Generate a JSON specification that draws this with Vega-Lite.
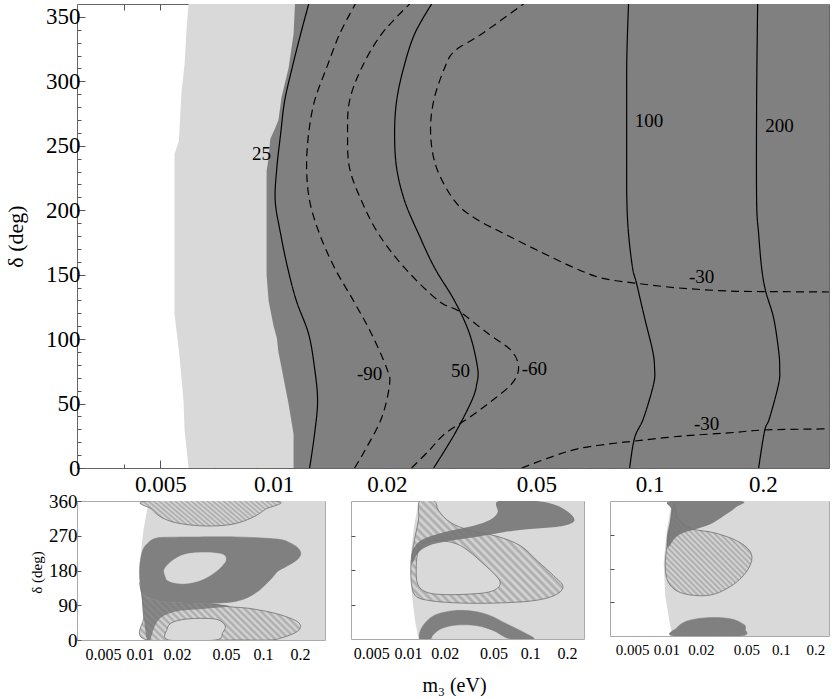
{
"$schema": "https://vega.github.io/schema/vega-lite/v6.json",
"background": "white",
"padding": {"left": 3, "top": 3, "right": 0, "bottom": 0},
"config": {
  "view": {"stroke": "#666666", "strokeWidth": 1},
  "axis": {"labelFont": "Liberation Serif, Times New Roman, DejaVu Serif, serif", "titleFont": "Liberation Serif, Times New Roman, DejaVu Serif, serif", "titleFontWeight": "normal", "labelColor": "#000000", "titleColor": "#000000", "tickColor": "#555555", "domain": false, "grid": false, "labelFlush": false, "labelOverlap": false},
  "text": {"font": "Liberation Serif, Times New Roman, DejaVu Serif, serif"},
  "style": {
    "hatchA": {"fill": {"gradient": "linear", "x1": 0, "y1": 1, "x2": 1.162, "y2": 0.749, "stops": [{"offset":0,"color":"#a8a8a8"},{"offset":0.0156,"color":"#d9d9d9"},{"offset":0.0313,"color":"#a8a8a8"},{"offset":0.0469,"color":"#d9d9d9"},{"offset":0.0625,"color":"#a8a8a8"},{"offset":0.0781,"color":"#d9d9d9"},{"offset":0.0938,"color":"#a8a8a8"},{"offset":0.1094,"color":"#d9d9d9"},{"offset":0.125,"color":"#a8a8a8"},{"offset":0.1406,"color":"#d9d9d9"},{"offset":0.1563,"color":"#a8a8a8"},{"offset":0.1719,"color":"#d9d9d9"},{"offset":0.1875,"color":"#a8a8a8"},{"offset":0.2031,"color":"#d9d9d9"},{"offset":0.2188,"color":"#a8a8a8"},{"offset":0.2344,"color":"#d9d9d9"},{"offset":0.25,"color":"#a8a8a8"},{"offset":0.2656,"color":"#d9d9d9"},{"offset":0.2813,"color":"#a8a8a8"},{"offset":0.2969,"color":"#d9d9d9"},{"offset":0.3125,"color":"#a8a8a8"},{"offset":0.3281,"color":"#d9d9d9"},{"offset":0.3438,"color":"#a8a8a8"},{"offset":0.3594,"color":"#d9d9d9"},{"offset":0.375,"color":"#a8a8a8"},{"offset":0.3906,"color":"#d9d9d9"},{"offset":0.4063,"color":"#a8a8a8"},{"offset":0.4219,"color":"#d9d9d9"},{"offset":0.4375,"color":"#a8a8a8"},{"offset":0.4531,"color":"#d9d9d9"},{"offset":0.4688,"color":"#a8a8a8"},{"offset":0.4844,"color":"#d9d9d9"},{"offset":0.5,"color":"#a8a8a8"},{"offset":0.5156,"color":"#d9d9d9"},{"offset":0.5313,"color":"#a8a8a8"},{"offset":0.5469,"color":"#d9d9d9"},{"offset":0.5625,"color":"#a8a8a8"},{"offset":0.5781,"color":"#d9d9d9"},{"offset":0.5938,"color":"#a8a8a8"},{"offset":0.6094,"color":"#d9d9d9"},{"offset":0.625,"color":"#a8a8a8"},{"offset":0.6406,"color":"#d9d9d9"},{"offset":0.6563,"color":"#a8a8a8"},{"offset":0.6719,"color":"#d9d9d9"},{"offset":0.6875,"color":"#a8a8a8"},{"offset":0.7031,"color":"#d9d9d9"},{"offset":0.7188,"color":"#a8a8a8"},{"offset":0.7344,"color":"#d9d9d9"},{"offset":0.75,"color":"#a8a8a8"},{"offset":0.7656,"color":"#d9d9d9"},{"offset":0.7813,"color":"#a8a8a8"},{"offset":0.7969,"color":"#d9d9d9"},{"offset":0.8125,"color":"#a8a8a8"},{"offset":0.8281,"color":"#d9d9d9"},{"offset":0.8438,"color":"#a8a8a8"},{"offset":0.8594,"color":"#d9d9d9"},{"offset":0.875,"color":"#a8a8a8"},{"offset":0.8906,"color":"#d9d9d9"},{"offset":0.9063,"color":"#a8a8a8"},{"offset":0.9219,"color":"#d9d9d9"},{"offset":0.9375,"color":"#a8a8a8"},{"offset":0.9531,"color":"#d9d9d9"},{"offset":0.9688,"color":"#a8a8a8"},{"offset":0.9844,"color":"#d9d9d9"},{"offset":1,"color":"#a8a8a8"}]}},
    "hatchB": {"fill": {"gradient": "linear", "x1": 0, "y1": 1, "x2": 1.2055, "y2": 0.548, "stops": [{"offset":0,"color":"#a8a8a8"},{"offset":0.0156,"color":"#d9d9d9"},{"offset":0.0313,"color":"#a8a8a8"},{"offset":0.0469,"color":"#d9d9d9"},{"offset":0.0625,"color":"#a8a8a8"},{"offset":0.0781,"color":"#d9d9d9"},{"offset":0.0938,"color":"#a8a8a8"},{"offset":0.1094,"color":"#d9d9d9"},{"offset":0.125,"color":"#a8a8a8"},{"offset":0.1406,"color":"#d9d9d9"},{"offset":0.1563,"color":"#a8a8a8"},{"offset":0.1719,"color":"#d9d9d9"},{"offset":0.1875,"color":"#a8a8a8"},{"offset":0.2031,"color":"#d9d9d9"},{"offset":0.2188,"color":"#a8a8a8"},{"offset":0.2344,"color":"#d9d9d9"},{"offset":0.25,"color":"#a8a8a8"},{"offset":0.2656,"color":"#d9d9d9"},{"offset":0.2813,"color":"#a8a8a8"},{"offset":0.2969,"color":"#d9d9d9"},{"offset":0.3125,"color":"#a8a8a8"},{"offset":0.3281,"color":"#d9d9d9"},{"offset":0.3438,"color":"#a8a8a8"},{"offset":0.3594,"color":"#d9d9d9"},{"offset":0.375,"color":"#a8a8a8"},{"offset":0.3906,"color":"#d9d9d9"},{"offset":0.4063,"color":"#a8a8a8"},{"offset":0.4219,"color":"#d9d9d9"},{"offset":0.4375,"color":"#a8a8a8"},{"offset":0.4531,"color":"#d9d9d9"},{"offset":0.4688,"color":"#a8a8a8"},{"offset":0.4844,"color":"#d9d9d9"},{"offset":0.5,"color":"#a8a8a8"},{"offset":0.5156,"color":"#d9d9d9"},{"offset":0.5313,"color":"#a8a8a8"},{"offset":0.5469,"color":"#d9d9d9"},{"offset":0.5625,"color":"#a8a8a8"},{"offset":0.5781,"color":"#d9d9d9"},{"offset":0.5938,"color":"#a8a8a8"},{"offset":0.6094,"color":"#d9d9d9"},{"offset":0.625,"color":"#a8a8a8"},{"offset":0.6406,"color":"#d9d9d9"},{"offset":0.6563,"color":"#a8a8a8"},{"offset":0.6719,"color":"#d9d9d9"},{"offset":0.6875,"color":"#a8a8a8"},{"offset":0.7031,"color":"#d9d9d9"},{"offset":0.7188,"color":"#a8a8a8"},{"offset":0.7344,"color":"#d9d9d9"},{"offset":0.75,"color":"#a8a8a8"},{"offset":0.7656,"color":"#d9d9d9"},{"offset":0.7813,"color":"#a8a8a8"},{"offset":0.7969,"color":"#d9d9d9"},{"offset":0.8125,"color":"#a8a8a8"},{"offset":0.8281,"color":"#d9d9d9"},{"offset":0.8438,"color":"#a8a8a8"},{"offset":0.8594,"color":"#d9d9d9"},{"offset":0.875,"color":"#a8a8a8"},{"offset":0.8906,"color":"#d9d9d9"},{"offset":0.9063,"color":"#a8a8a8"},{"offset":0.9219,"color":"#d9d9d9"},{"offset":0.9375,"color":"#a8a8a8"},{"offset":0.9531,"color":"#d9d9d9"},{"offset":0.9688,"color":"#a8a8a8"},{"offset":0.9844,"color":"#d9d9d9"},{"offset":1,"color":"#a8a8a8"}]}},
    "hatchC": {"fill": {"gradient": "linear", "x1": 0, "y1": 1, "x2": 1.152, "y2": 0.227, "stops": [{"offset":0,"color":"#a8a8a8"},{"offset":0.0156,"color":"#d9d9d9"},{"offset":0.0313,"color":"#a8a8a8"},{"offset":0.0469,"color":"#d9d9d9"},{"offset":0.0625,"color":"#a8a8a8"},{"offset":0.0781,"color":"#d9d9d9"},{"offset":0.0938,"color":"#a8a8a8"},{"offset":0.1094,"color":"#d9d9d9"},{"offset":0.125,"color":"#a8a8a8"},{"offset":0.1406,"color":"#d9d9d9"},{"offset":0.1563,"color":"#a8a8a8"},{"offset":0.1719,"color":"#d9d9d9"},{"offset":0.1875,"color":"#a8a8a8"},{"offset":0.2031,"color":"#d9d9d9"},{"offset":0.2188,"color":"#a8a8a8"},{"offset":0.2344,"color":"#d9d9d9"},{"offset":0.25,"color":"#a8a8a8"},{"offset":0.2656,"color":"#d9d9d9"},{"offset":0.2813,"color":"#a8a8a8"},{"offset":0.2969,"color":"#d9d9d9"},{"offset":0.3125,"color":"#a8a8a8"},{"offset":0.3281,"color":"#d9d9d9"},{"offset":0.3438,"color":"#a8a8a8"},{"offset":0.3594,"color":"#d9d9d9"},{"offset":0.375,"color":"#a8a8a8"},{"offset":0.3906,"color":"#d9d9d9"},{"offset":0.4063,"color":"#a8a8a8"},{"offset":0.4219,"color":"#d9d9d9"},{"offset":0.4375,"color":"#a8a8a8"},{"offset":0.4531,"color":"#d9d9d9"},{"offset":0.4688,"color":"#a8a8a8"},{"offset":0.4844,"color":"#d9d9d9"},{"offset":0.5,"color":"#a8a8a8"},{"offset":0.5156,"color":"#d9d9d9"},{"offset":0.5313,"color":"#a8a8a8"},{"offset":0.5469,"color":"#d9d9d9"},{"offset":0.5625,"color":"#a8a8a8"},{"offset":0.5781,"color":"#d9d9d9"},{"offset":0.5938,"color":"#a8a8a8"},{"offset":0.6094,"color":"#d9d9d9"},{"offset":0.625,"color":"#a8a8a8"},{"offset":0.6406,"color":"#d9d9d9"},{"offset":0.6563,"color":"#a8a8a8"},{"offset":0.6719,"color":"#d9d9d9"},{"offset":0.6875,"color":"#a8a8a8"},{"offset":0.7031,"color":"#d9d9d9"},{"offset":0.7188,"color":"#a8a8a8"},{"offset":0.7344,"color":"#d9d9d9"},{"offset":0.75,"color":"#a8a8a8"},{"offset":0.7656,"color":"#d9d9d9"},{"offset":0.7813,"color":"#a8a8a8"},{"offset":0.7969,"color":"#d9d9d9"},{"offset":0.8125,"color":"#a8a8a8"},{"offset":0.8281,"color":"#d9d9d9"},{"offset":0.8438,"color":"#a8a8a8"},{"offset":0.8594,"color":"#d9d9d9"},{"offset":0.875,"color":"#a8a8a8"},{"offset":0.8906,"color":"#d9d9d9"},{"offset":0.9063,"color":"#a8a8a8"},{"offset":0.9219,"color":"#d9d9d9"},{"offset":0.9375,"color":"#a8a8a8"},{"offset":0.9531,"color":"#d9d9d9"},{"offset":0.9688,"color":"#a8a8a8"},{"offset":0.9844,"color":"#d9d9d9"},{"offset":1,"color":"#a8a8a8"}]}},
    "hatchD": {"fill": {"gradient": "linear", "x1": 0, "y1": 1, "x2": 0.977, "y2": -0.022, "stops": [{"offset":0,"color":"#a8a8a8"},{"offset":0.0156,"color":"#d9d9d9"},{"offset":0.0313,"color":"#a8a8a8"},{"offset":0.0469,"color":"#d9d9d9"},{"offset":0.0625,"color":"#a8a8a8"},{"offset":0.0781,"color":"#d9d9d9"},{"offset":0.0938,"color":"#a8a8a8"},{"offset":0.1094,"color":"#d9d9d9"},{"offset":0.125,"color":"#a8a8a8"},{"offset":0.1406,"color":"#d9d9d9"},{"offset":0.1563,"color":"#a8a8a8"},{"offset":0.1719,"color":"#d9d9d9"},{"offset":0.1875,"color":"#a8a8a8"},{"offset":0.2031,"color":"#d9d9d9"},{"offset":0.2188,"color":"#a8a8a8"},{"offset":0.2344,"color":"#d9d9d9"},{"offset":0.25,"color":"#a8a8a8"},{"offset":0.2656,"color":"#d9d9d9"},{"offset":0.2813,"color":"#a8a8a8"},{"offset":0.2969,"color":"#d9d9d9"},{"offset":0.3125,"color":"#a8a8a8"},{"offset":0.3281,"color":"#d9d9d9"},{"offset":0.3438,"color":"#a8a8a8"},{"offset":0.3594,"color":"#d9d9d9"},{"offset":0.375,"color":"#a8a8a8"},{"offset":0.3906,"color":"#d9d9d9"},{"offset":0.4063,"color":"#a8a8a8"},{"offset":0.4219,"color":"#d9d9d9"},{"offset":0.4375,"color":"#a8a8a8"},{"offset":0.4531,"color":"#d9d9d9"},{"offset":0.4688,"color":"#a8a8a8"},{"offset":0.4844,"color":"#d9d9d9"},{"offset":0.5,"color":"#a8a8a8"},{"offset":0.5156,"color":"#d9d9d9"},{"offset":0.5313,"color":"#a8a8a8"},{"offset":0.5469,"color":"#d9d9d9"},{"offset":0.5625,"color":"#a8a8a8"},{"offset":0.5781,"color":"#d9d9d9"},{"offset":0.5938,"color":"#a8a8a8"},{"offset":0.6094,"color":"#d9d9d9"},{"offset":0.625,"color":"#a8a8a8"},{"offset":0.6406,"color":"#d9d9d9"},{"offset":0.6563,"color":"#a8a8a8"},{"offset":0.6719,"color":"#d9d9d9"},{"offset":0.6875,"color":"#a8a8a8"},{"offset":0.7031,"color":"#d9d9d9"},{"offset":0.7188,"color":"#a8a8a8"},{"offset":0.7344,"color":"#d9d9d9"},{"offset":0.75,"color":"#a8a8a8"},{"offset":0.7656,"color":"#d9d9d9"},{"offset":0.7813,"color":"#a8a8a8"},{"offset":0.7969,"color":"#d9d9d9"},{"offset":0.8125,"color":"#a8a8a8"},{"offset":0.8281,"color":"#d9d9d9"},{"offset":0.8438,"color":"#a8a8a8"},{"offset":0.8594,"color":"#d9d9d9"},{"offset":0.875,"color":"#a8a8a8"},{"offset":0.8906,"color":"#d9d9d9"},{"offset":0.9063,"color":"#a8a8a8"},{"offset":0.9219,"color":"#d9d9d9"},{"offset":0.9375,"color":"#a8a8a8"},{"offset":0.9531,"color":"#d9d9d9"},{"offset":0.9688,"color":"#a8a8a8"},{"offset":0.9844,"color":"#d9d9d9"},{"offset":1,"color":"#a8a8a8"}]}}
  }
},
"datasets": {
  "mainB": [
    {"s":"L","o":0,"d":0,"m":0.00594},{"s":"L","o":1,"d":28.7,"m":0.0058},{"s":"L","o":2,"d":52,"m":0.00576},{"s":"L","o":3,"d":70,"m":0.00569},{"s":"L","o":4,"d":91,"m":0.0056},{"s":"L","o":5,"d":119.5,"m":0.00545},{"s":"L","o":6,"d":207,"m":0.00545},{"s":"L","o":7,"d":243.6,"m":0.00545},{"s":"L","o":8,"d":253.7,"m":0.0056},{"s":"L","o":9,"d":292.5,"m":0.00569},{"s":"L","o":10,"d":313.5,"m":0.0058},{"s":"L","o":11,"d":341.4,"m":0.00587},{"s":"L","o":12,"d":360,"m":0.00594},{"s":"L","o":13,"d":360,"m":0.3},{"s":"L","o":14,"d":0,"m":0.3},
    {"s":"D","o":0,"d":0,"m":0.0113},{"s":"D","o":1,"d":26.4,"m":0.0113},{"s":"D","o":2,"d":49.7,"m":0.01096},{"s":"D","o":3,"d":77.6,"m":0.0105},{"s":"D","o":4,"d":90,"m":0.0103},{"s":"D","o":5,"d":100.9,"m":0.0102},{"s":"D","o":6,"d":110,"m":0.01},{"s":"D","o":7,"d":129.6,"m":0.0097},{"s":"D","o":8,"d":150,"m":0.00958},{"s":"D","o":9,"d":200,"m":0.00958},{"s":"D","o":10,"d":230.4,"m":0.00958},{"s":"D","o":11,"d":240.5,"m":0.0097},{"s":"D","o":12,"d":255.3,"m":0.0098},{"s":"D","o":13,"d":263.8,"m":0.0101},{"s":"D","o":14,"d":270,"m":0.0103},{"s":"D","o":15,"d":287.8,"m":0.0105},{"s":"D","o":16,"d":310.3,"m":0.01096},{"s":"D","o":17,"d":336.7,"m":0.0113},{"s":"D","o":18,"d":360,"m":0.0114},{"s":"D","o":19,"d":360,"m":0.3},{"s":"D","o":20,"d":0,"m":0.3}
  ],
  "cont": [
    {"c":"25","k":"s","d":360,"m":0.0124},{"c":"25","k":"s","d":336.7,"m":0.0118},{"c":"25","k":"s","d":310.4,"m":0.0112},{"c":"25","k":"s","d":284.8,"m":0.0107},{"c":"25","k":"s","d":259.2,"m":0.01044},{"c":"25","k":"s","d":232.8,"m":0.0102},{"c":"25","k":"s","d":207.2,"m":0.0101},{"c":"25","k":"s","d":181.6,"m":0.01044},{"c":"25","k":"s","d":155.2,"m":0.0109},{"c":"25","k":"s","d":129.6,"m":0.0115},{"c":"25","k":"s","d":104,"m":0.01239},{"c":"25","k":"s","d":77.6,"m":0.01285},{"c":"25","k":"s","d":52,"m":0.01309},{"c":"25","k":"s","d":26.4,"m":0.01285},{"c":"25","k":"s","d":0,"m":0.01247},
    {"c":"m90","k":"d","d":360,"m":0.0165},{"c":"m90","k":"d","d":336.7,"m":0.01498},{"c":"m90","k":"d","d":310.4,"m":0.01383},{"c":"m90","k":"d","d":284.8,"m":0.01285},{"c":"m90","k":"d","d":259.2,"m":0.01239},{"c":"m90","k":"d","d":232.8,"m":0.01224},{"c":"m90","k":"d","d":207.2,"m":0.01247},{"c":"m90","k":"d","d":181.6,"m":0.01325},{"c":"m90","k":"d","d":155.2,"m":0.01453},{"c":"m90","k":"d","d":129.6,"m":0.01632},{"c":"m90","k":"d","d":104,"m":0.01822},{"c":"m90","k":"d","d":77.6,"m":0.01998},{"c":"m90","k":"d","d":65.2,"m":0.02035},{"c":"m90","k":"d","d":38.8,"m":0.01937},{"c":"m90","k":"d","d":13.2,"m":0.01746},{"c":"m90","k":"d","d":0,"m":0.01642},
    {"c":"m60","k":"d","d":360,"m":0.023},{"c":"m60","k":"d","d":336.7,"m":0.01937},{"c":"m60","k":"d","d":310.4,"m":0.01714},{"c":"m60","k":"d","d":284.8,"m":0.01592},{"c":"m60","k":"d","d":259.2,"m":0.01573},{"c":"m60","k":"d","d":232.8,"m":0.01592},{"c":"m60","k":"d","d":207.2,"m":0.01714},{"c":"m60","k":"d","d":181.6,"m":0.01902},{"c":"m60","k":"d","d":155.2,"m":0.02231},{"c":"m60","k":"d","d":129.6,"m":0.02747},{"c":"m60","k":"d","d":121.8,"m":0.03105},{"c":"m60","k":"d","d":104,"m":0.03731},{"c":"m60","k":"d","d":90.8,"m":0.04295},{"c":"m60","k":"d","d":77.6,"m":0.04483},{"c":"m60","k":"d","d":65.2,"m":0.04295},{"c":"m60","k":"d","d":52,"m":0.038},{"c":"m60","k":"d","d":38.8,"m":0.03301},{"c":"m60","k":"d","d":26.4,"m":0.0285},{"c":"m60","k":"d","d":13.2,"m":0.02584},{"c":"m60","k":"d","d":0,"m":0.02328},
    {"c":"50","k":"s","d":360,"m":0.02632},{"c":"50","k":"s","d":336.7,"m":0.02371},{"c":"50","k":"s","d":310.4,"m":0.02217},{"c":"50","k":"s","d":284.8,"m":0.02124},{"c":"50","k":"s","d":259.2,"m":0.02098},{"c":"50","k":"s","d":232.8,"m":0.02124},{"c":"50","k":"s","d":207.2,"m":0.02231},{"c":"50","k":"s","d":181.6,"m":0.0243},{"c":"50","k":"s","d":155.2,"m":0.02681},{"c":"50","k":"s","d":129.6,"m":0.0303},{"c":"50","k":"s","d":104,"m":0.03321},{"c":"50","k":"s","d":77.6,"m":0.03488},{"c":"50","k":"s","d":65.2,"m":0.0347},{"c":"50","k":"s","d":52,"m":0.03362},{"c":"50","k":"s","d":26.4,"m":0.0303},{"c":"50","k":"s","d":0,"m":0.02665},
    {"c":"m30a","k":"d","d":360,"m":0.0462},{"c":"m30a","k":"d","d":336.7,"m":0.03575},{"c":"m30a","k":"d","d":323.5,"m":0.0303},{"c":"m30a","k":"d","d":310.4,"m":0.0285},{"c":"m30a","k":"d","d":284.8,"m":0.02665},{"c":"m30a","k":"d","d":259.2,"m":0.02616},{"c":"m30a","k":"d","d":232.8,"m":0.02713},{"c":"m30a","k":"d","d":207.2,"m":0.0303},{"c":"m30a","k":"d","d":194,"m":0.03424},{"c":"m30a","k":"d","d":181.6,"m":0.04116},{"c":"m30a","k":"d","d":168.4,"m":0.05068},{"c":"m30a","k":"d","d":155.2,"m":0.06318},{"c":"m30a","k":"d","d":147.4,"m":0.07452},{"c":"m30a","k":"d","d":143.5,"m":0.09124},{"c":"m30a","k":"d","d":139.7,"m":0.1194},{"c":"m30a","k":"d","d":137.3,"m":0.1622},{"c":"m30a","k":"d","d":136.9,"m":0.1986},{"c":"m30a","k":"d","d":136.6,"m":0.2866},{"c":"m30a","k":"d","d":136.5,"m":0.3},
    {"c":"m30b","k":"d","d":0,"m":0.0457},{"c":"m30b","k":"d","d":9.3,"m":0.0556},{"c":"m30b","k":"d","d":15.5,"m":0.0659},{"c":"m30b","k":"d","d":19.4,"m":0.0817},{"c":"m30b","k":"d","d":20.9,"m":0.0912},{"c":"m30b","k":"d","d":24.8,"m":0.1217},{"c":"m30b","k":"d","d":27.2,"m":0.1622},{"c":"m30b","k":"d","d":29.5,"m":0.202},{"c":"m30b","k":"d","d":30.3,"m":0.2866},{"c":"m30b","k":"d","d":30.5,"m":0.3},
    {"c":"100","k":"s","d":360,"m":0.0879},{"c":"100","k":"s","d":320,"m":0.087},{"c":"100","k":"s","d":280,"m":0.0869},{"c":"100","k":"s","d":240,"m":0.0869},{"c":"100","k":"s","d":207.2,"m":0.087},{"c":"100","k":"s","d":181.6,"m":0.0879},{"c":"100","k":"s","d":155.2,"m":0.0901},{"c":"100","k":"s","d":142.8,"m":0.0924},{"c":"100","k":"s","d":116.4,"m":0.097},{"c":"100","k":"s","d":90.8,"m":0.1019},{"c":"100","k":"s","d":77.6,"m":0.1031},{"c":"100","k":"s","d":65.2,"m":0.1025},{"c":"100","k":"s","d":38.8,"m":0.0964},{"c":"100","k":"s","d":23.3,"m":0.0912},{"c":"100","k":"s","d":0,"m":0.0885},
    {"c":"200","k":"s","d":360,"m":0.1938},{"c":"200","k":"s","d":284.8,"m":0.1926},{"c":"200","k":"s","d":207.2,"m":0.1926},{"c":"200","k":"s","d":181.6,"m":0.195},{"c":"200","k":"s","d":155.2,"m":0.1986},{"c":"200","k":"s","d":137.3,"m":0.2035},{"c":"200","k":"s","d":116.4,"m":0.2137},{"c":"200","k":"s","d":90.8,"m":0.2204},{"c":"200","k":"s","d":77.6,"m":0.2218},{"c":"200","k":"s","d":65.2,"m":0.2204},{"c":"200","k":"s","d":38.8,"m":0.2085},{"c":"200","k":"s","d":28.7,"m":0.2022},{"c":"200","k":"s","d":0,"m":0.195}
  ],
  "labs": [
    {"t":"25","m":0.00929,"d":243.6},{"t":"-90","m":0.018,"d":73.3},{"t":"50","m":0.0314,"d":75.6},{"t":"-60","m":0.0494,"d":76.8},{"t":"100","m":0.0997,"d":269.2},{"t":"200","m":0.2216,"d":265.4},{"t":"-30","m":0.1375,"d":148.2},{"t":"-30","m":0.1418,"d":34.5}
  ],
  "p1": [
    {"s":"wb","o":0,"d":0,"m":0.0118},{"s":"wb","o":1,"d":28,"m":0.0114},{"s":"wb","o":2,"d":71,"m":0.0107},{"s":"wb","o":3,"d":114,"m":0.0104},{"s":"wb","o":4,"d":174,"m":0.01},{"s":"wb","o":5,"d":243,"m":0.0103},{"s":"wb","o":6,"d":287,"m":0.0107},{"s":"wb","o":7,"d":360,"m":0.0118},{"s":"wb","o":8,"d":360,"m":0.35},{"s":"wb","o":9,"d":0,"m":0.35},
    {"s":"th","o":0,"m":0.01176,"d":360},{"s":"th","o":1,"m":0.01252,"d":338.5},{"s":"th","o":2,"m":0.0151,"d":316.9},{"s":"th","o":3,"m":0.02063,"d":302.2},{"s":"th","o":4,"m":0.034,"d":295.3},{"s":"th","o":5,"m":0.05598,"d":299.6},{"s":"th","o":6,"m":0.0814,"d":316.9},{"s":"th","o":7,"m":0.1044,"d":338.5},{"s":"th","o":8,"m":0.1221,"d":360},
    {"s":"lh","o":0,"m":0.0101,"d":150},{"s":"lh","o":1,"m":0.0135,"d":112},{"s":"lh","o":2,"m":0.02,"d":103},{"s":"lh","o":3,"m":0.034,"d":96},{"s":"lh","o":4,"m":0.0526,"d":86.5},{"s":"lh","o":5,"m":0.0765,"d":82},{"s":"lh","o":6,"m":0.1184,"d":71},{"s":"lh","o":7,"m":0.1617,"d":58},{"s":"lh","o":8,"m":0.195,"d":45},{"s":"lh","o":9,"m":0.201,"d":32},{"s":"lh","o":10,"m":0.1832,"d":19},{"s":"lh","o":11,"m":0.1427,"d":6},{"s":"lh","o":12,"m":0.1147,"d":0},{"s":"lh","o":13,"m":0.06,"d":0},{"s":"lh","o":14,"m":0.0114,"d":0},{"s":"lh","o":15,"m":0.0107,"d":60},{"s":"lh","o":16,"m":0.0104,"d":114},
    {"s":"lhh","o":0,"m":0.0171,"d":0},{"s":"lhh","o":1,"m":0.0166,"d":28},{"s":"lhh","o":2,"m":0.0182,"d":45},{"s":"lhh","o":3,"m":0.0234,"d":54},{"s":"lhh","o":4,"m":0.034,"d":56},{"s":"lhh","o":5,"m":0.0436,"d":52},{"s":"lhh","o":6,"m":0.0494,"d":36},{"s":"lhh","o":7,"m":0.047,"d":19},{"s":"lhh","o":8,"m":0.041,"d":0},
    {"s":"wg","o":0,"m":0.0101,"d":140},{"s":"wg","o":1,"m":0.0115,"d":112},{"s":"wg","o":2,"m":0.0135,"d":103},{"s":"wg","o":3,"m":0.018,"d":97},{"s":"wg","o":4,"m":0.03,"d":95},{"s":"wg","o":5,"m":0.045,"d":92},{"s":"wg","o":6,"m":0.0526,"d":86.5},{"s":"wg","o":7,"m":0.034,"d":81},{"s":"wg","o":8,"m":0.0206,"d":75},{"s":"wg","o":9,"m":0.0151,"d":60},{"s":"wg","o":10,"m":0.0132,"d":36},{"s":"wg","o":11,"m":0.0121,"d":0},{"s":"wg","o":12,"m":0.0114,"d":0},{"s":"wg","o":13,"m":0.0109,"d":40},{"s":"wg","o":14,"m":0.0106,"d":80},{"s":"wg","o":15,"m":0.0103,"d":114},
    {"s":"db","o":0,"m":0.0115,"d":250},{"s":"db","o":1,"m":0.013,"d":262},{"s":"db","o":2,"m":0.016,"d":266},{"s":"db","o":3,"m":0.03,"d":267},{"s":"db","o":4,"m":0.06,"d":267},{"s":"db","o":5,"m":0.1,"d":264},{"s":"db","o":6,"m":0.14,"d":260},{"s":"db","o":7,"m":0.165,"d":252},{"s":"db","o":8,"m":0.19,"d":240},{"s":"db","o":9,"m":0.203,"d":225},{"s":"db","o":10,"m":0.195,"d":212},{"s":"db","o":11,"m":0.175,"d":200},{"s":"db","o":12,"m":0.15,"d":188},{"s":"db","o":13,"m":0.132,"d":178},{"s":"db","o":14,"m":0.118,"d":160},{"s":"db","o":15,"m":0.102,"d":140},{"s":"db","o":16,"m":0.09,"d":125},{"s":"db","o":17,"m":0.075,"d":110},{"s":"db","o":18,"m":0.06,"d":100},{"s":"db","o":19,"m":0.045,"d":96},{"s":"db","o":20,"m":0.03,"d":95},{"s":"db","o":21,"m":0.018,"d":97},{"s":"db","o":22,"m":0.0135,"d":103},{"s":"db","o":23,"m":0.0115,"d":112},{"s":"db","o":24,"m":0.0105,"d":125},{"s":"db","o":25,"m":0.01,"d":150},{"s":"db","o":26,"m":0.0099,"d":180},{"s":"db","o":27,"m":0.0101,"d":210},{"s":"db","o":28,"m":0.0106,"d":235},
    {"s":"dbh","o":0,"m":0.01607,"d":165.8},{"s":"dbh","o":1,"m":0.0158,"d":183},{"s":"dbh","o":2,"m":0.0182,"d":204.7},{"s":"dbh","o":3,"m":0.02337,"d":221.9},{"s":"dbh","o":4,"m":0.03398,"d":226.3},{"s":"dbh","o":5,"m":0.04642,"d":221.9},{"s":"dbh","o":6,"m":0.05,"d":209},{"s":"dbh","o":7,"m":0.0464,"d":191.7},{"s":"dbh","o":8,"m":0.0385,"d":170.2},{"s":"dbh","o":9,"m":0.03,"d":152.9},{"s":"dbh","o":10,"m":0.022,"d":146},{"s":"dbh","o":11,"m":0.0171,"d":152.9}
  ],
  "p2": [
    {"s":"wb","o":0,"d":0,"m":0.01223},{"s":"wb","o":1,"d":43.5,"m":0.01148},{"s":"wb","o":2,"d":113,"m":0.01078},{"s":"wb","o":3,"d":200,"m":0.01045},{"s":"wb","o":4,"d":287,"m":0.01113},{"s":"wb","o":5,"d":360,"m":0.01223},{"s":"wb","o":6,"d":360,"m":0.35},{"s":"wb","o":7,"d":0,"m":0.35},
    {"s":"h","o":0,"m":0.01246,"d":360},{"s":"h","o":1,"m":0.01643,"d":360},{"s":"h","o":2,"m":0.01782,"d":334.8},{"s":"h","o":3,"m":0.0222,"d":304.4},{"s":"h","o":4,"m":0.03237,"d":282.7},{"s":"h","o":5,"m":0.05349,"d":267.9},{"s":"h","o":6,"m":0.08303,"d":243.5},{"s":"h","o":7,"m":0.1137,"d":204.4},{"s":"h","o":8,"m":0.1556,"d":165.2},{"s":"h","o":9,"m":0.1855,"d":137.4},{"s":"h","o":10,"m":0.1606,"d":114.8},{"s":"h","o":11,"m":0.1068,"d":100},{"s":"h","o":12,"m":0.0535,"d":93.9},{"s":"h","o":13,"m":0.0268,"d":93.9},{"s":"h","o":14,"m":0.0152,"d":100},{"s":"h","o":15,"m":0.01148,"d":113},{"s":"h","o":16,"m":0.01065,"d":147.8},{"s":"h","o":17,"m":0.01058,"d":191.3},{"s":"h","o":18,"m":0.01085,"d":226.1},{"s":"h","o":19,"m":0.01148,"d":269.6},{"s":"h","o":20,"m":0.01223,"d":313.1},
    {"s":"hh","o":0,"m":0.0117,"d":191.3},{"s":"hh","o":1,"m":0.012,"d":143.5},{"s":"hh","o":2,"m":0.01431,"d":121.7},{"s":"hh","o":3,"m":0.02085,"d":115.7},{"s":"hh","o":4,"m":0.03907,"d":119.1},{"s":"hh","o":5,"m":0.05183,"d":128.7},{"s":"hh","o":6,"m":0.05695,"d":146.1},{"s":"hh","o":7,"m":0.05183,"d":167},{"s":"hh","o":8,"m":0.0416,"d":195.7},{"s":"hh","o":9,"m":0.03237,"d":226.1},{"s":"hh","o":10,"m":0.02518,"d":247.9},{"s":"hh","o":11,"m":0.01839,"d":256.6},{"s":"hh","o":12,"m":0.01431,"d":252.2},{"s":"hh","o":13,"m":0.01223,"d":230.5},
    {"s":"dt","o":0,"m":0.0552,"d":360},{"s":"dt","o":1,"m":0.1102,"d":360},{"s":"dt","o":2,"m":0.1606,"d":349.6},{"s":"dt","o":3,"m":0.2064,"d":330.5},{"s":"dt","o":4,"m":0.2297,"d":308.8},{"s":"dt","o":5,"m":0.1879,"d":295.7},{"s":"dt","o":6,"m":0.121,"d":288.8},{"s":"dt","o":7,"m":0.0732,"d":282.7},{"s":"dt","o":8,"m":0.0502,"d":274},{"s":"dt","o":9,"m":0.0345,"d":265.3},{"s":"dt","o":10,"m":0.0209,"d":254.8},{"s":"dt","o":11,"m":0.0148,"d":243.5},{"s":"dt","o":12,"m":0.0122,"d":226.1},{"s":"dt","o":13,"m":0.011,"d":200},{"s":"dt","o":14,"m":0.01065,"d":204.4},{"s":"dt","o":15,"m":0.01092,"d":230.5},{"s":"dt","o":16,"m":0.0122,"d":252.2},{"s":"dt","o":17,"m":0.0152,"d":267.9},{"s":"dt","o":18,"m":0.0222,"d":282.7},{"s":"dt","o":19,"m":0.0345,"d":295.7},{"s":"dt","o":20,"m":0.0472,"d":311.4},{"s":"dt","o":21,"m":0.0542,"d":330.5},
    {"s":"db","o":0,"m":0.01246,"d":0},{"s":"db","o":1,"m":0.01302,"d":30.4},{"s":"db","o":2,"m":0.01622,"d":60.9},{"s":"db","o":3,"m":0.02364,"d":73.9},{"s":"db","o":4,"m":0.03446,"d":72.2},{"s":"db","o":5,"m":0.04718,"d":60.9},{"s":"db","o":6,"m":0.06459,"d":39.1},{"s":"db","o":7,"m":0.0884,"d":17.4},{"s":"db","o":8,"m":0.1068,"d":0},{"s":"db","o":9,"m":0.06877,"d":0},{"s":"db","o":10,"m":0.05023,"d":21.7},{"s":"db","o":11,"m":0.03669,"d":34.8},{"s":"db","o":12,"m":0.02518,"d":36.5},{"s":"db","o":13,"m":0.01897,"d":27.8},{"s":"db","o":14,"m":0.01602,"d":10.4},{"s":"db","o":15,"m":0.01523,"d":0}
  ],
  "p3": [
    {"s":"wb","o":0,"d":0,"m":0.01132},{"s":"wb","o":1,"d":35.6,"m":0.01066},{"s":"wb","o":2,"d":106.7,"m":0.00977},{"s":"wb","o":3,"d":195.6,"m":0.00945},{"s":"wb","o":4,"d":284.4,"m":0.0101},{"s":"wb","o":5,"d":360,"m":0.01117},{"s":"wb","o":6,"d":360,"m":0.35},{"s":"wb","o":7,"d":0,"m":0.35},
    {"s":"h","o":0,"m":0.01171,"d":351.1},{"s":"h","o":1,"m":0.01235,"d":320},{"s":"h","o":2,"m":0.01413,"d":297.8},{"s":"h","o":3,"m":0.01728,"d":284.4},{"s":"h","o":4,"m":0.02584,"d":275.6},{"s":"h","o":5,"m":0.03865,"d":257.8},{"s":"h","o":6,"m":0.05054,"d":235.6},{"s":"h","o":7,"m":0.05589,"d":208.9},{"s":"h","o":8,"m":0.05054,"d":173.3},{"s":"h","o":9,"m":0.03865,"d":137.8},{"s":"h","o":10,"m":0.02584,"d":111.1},{"s":"h","o":11,"m":0.01728,"d":108.4},{"s":"h","o":12,"m":0.01235,"d":120},{"s":"h","o":13,"m":0.01024,"d":146.7},{"s":"h","o":14,"m":0.00977,"d":186.7},{"s":"h","o":15,"m":0.00997,"d":226.7},{"s":"h","o":16,"m":0.01045,"d":266.7},{"s":"h","o":17,"m":0.01117,"d":320},
    {"s":"dt","o":0,"m":0.01117,"d":360},{"s":"dt","o":1,"m":0.04418,"d":360},{"s":"dt","o":2,"m":0.03997,"d":342.2},{"s":"dt","o":3,"m":0.03159,"d":320},{"s":"dt","o":4,"m":0.02416,"d":297.8},{"s":"dt","o":5,"m":0.01787,"d":284.4},{"s":"dt","o":6,"m":0.01413,"d":275.6},{"s":"dt","o":7,"m":0.01195,"d":262.2},{"s":"dt","o":8,"m":0.01024,"d":235.6},{"s":"dt","o":9,"m":0.0101,"d":266.7},{"s":"dt","o":10,"m":0.01066,"d":302.2},{"s":"dt","o":11,"m":0.01102,"d":337.8},
    {"s":"db","o":0,"m":0.01155,"d":0},{"s":"db","o":1,"m":0.01235,"d":22.2},{"s":"db","o":2,"m":0.01511,"d":40},{"s":"db","o":3,"m":0.0226,"d":48.9},{"s":"db","o":4,"m":0.03614,"d":46.2},{"s":"db","o":5,"m":0.04727,"d":31.1},{"s":"db","o":6,"m":0.04888,"d":17.8},{"s":"db","o":7,"m":0.04418,"d":0}
  ]
},
"bounds": "flush",
"spacing": 33,
"vconcat": [
  {
    "width": 752, "height": 464,
    "resolve": {"axis": {"x": "independent", "y": "independent"}},
    "layer": [
      {
        "data": {"name": "mainB"},
        "transform": [{"filter": "datum.s == 'L'"}],
        "mark": {"type": "line", "interpolate": "linear-closed", "fill": "#d9d9d9", "stroke": "#d9d9d9", "strokeWidth": 0, "clip": true},
        "encoding": {
          "y": {"field": "d", "type": "quantitative", "scale": {"domain": [0, 360], "nice": false, "zero": false},
                "axis": {"orient": "left", "values": [0,50,100,150,200,250,300,350], "labelFontSize": 23, "tickSize": -8, "labelPadding": 5, "labelBaseline": "middle", "title": "δ (deg)", "titleFontSize": 22, "titleX": -50, "titleY": 232, "titleBaseline": "bottom"}},
          "x": {"field": "m", "type": "quantitative", "scale": {"type": "log", "domain": [0.003, 0.3], "nice": false},
                "axis": {"orient": "bottom", "values": [0.005,0.01,0.02,0.05,0.1,0.2], "labelExpr": "toString(datum.value)", "labelFontSize": 23, "tickSize": -8, "labelPadding": 13, "title": null}},
          "order": {"field": "o", "type": "quantitative"}
        }
      },
      {
        "data": {"name": "mainB"},
        "transform": [{"filter": "datum.s == 'D'"}],
        "mark": {"type": "line", "interpolate": "linear-closed", "fill": "#808080", "stroke": "#808080", "strokeWidth": 0, "clip": true},
        "encoding": {
          "y": {"field": "d", "type": "quantitative", "axis": {"orient": "right", "values": [10,20,30,40,50,60,70,80,90,100,110,120,130,140,150,160,170,180,190,200,210,220,230,240,250,260,270,280,290,300,310,320,330,340,350], "labels": false, "tickSize": -6, "title": null}},
          "x": {"field": "m", "type": "quantitative", "axis": {"orient": "top", "values": [0.004,0.005,0.006,0.007,0.008,0.009,0.01,0.02,0.03,0.04,0.05,0.06,0.07,0.08,0.09,0.1,0.2], "labels": false, "tickSize": -6, "title": null}},
          "order": {"field": "o", "type": "quantitative"}
        }
      },
      {
        "data": {"name": "cont"},
        "mark": {"type": "line", "interpolate": "cardinal", "color": "#000000", "strokeWidth": 1.2, "clip": true},
        "encoding": {
          "y": {"field": "d", "type": "quantitative", "axis": {"orient": "left", "values": [10,20,30,40,60,70,80,90,110,120,130,140,160,170,180,190,210,220,230,240,260,270,280,290,310,320,330,340], "labels": false, "tickSize": -4, "title": null}},
          "x": {"field": "m", "type": "quantitative", "axis": {"orient": "bottom", "values": [0.004,0.006,0.007,0.008,0.009,0.03,0.04,0.06,0.07,0.08,0.09], "labels": false, "tickSize": -4, "title": null}},
          "detail": {"field": "c", "type": "nominal"},
          "order": {"field": "d", "type": "quantitative"},
          "strokeDash": {"field": "k", "type": "nominal", "scale": {"domain": ["s", "d"], "range": [[1, 0], [8, 5]]}, "legend": null}
        }
      },
      {
        "data": {"name": "labs"},
        "mark": {"type": "text", "fontSize": 19, "color": "#000000", "align": "center", "baseline": "middle"},
        "encoding": {
          "y": {"field": "d", "type": "quantitative", "axis": null},
          "x": {"field": "m", "type": "quantitative", "axis": null},
          "text": {"field": "t", "type": "nominal"}
        }
      }
    ]
  },
  {
    "bounds": "flush",
    "spacing": 26,
    "hconcat": [
      {
        "width": 248, "height": 139,
        "view": {"stroke": "#aaaaaa"},
        "data": {"name": "p1"},
        "resolve": {"axis": {"x": "independent", "y": "independent"}},
        "layer": [
          {"transform": [{"filter": "datum.s == 'wb'"}],
           "mark": {"type": "line", "interpolate": "linear-closed", "fill": "#d9d9d9", "stroke": "#d9d9d9", "strokeWidth": 0, "clip": true},
           "encoding": {
             "y": {"field": "d", "type": "quantitative", "scale": {"domain": [0, 360], "nice": false, "zero": false},
                   "axis": {"values": [0,90,180,270,360], "labelFontSize": 19, "tickSize": -4, "labelPadding": 4, "labelBaseline": "middle", "title": "δ (deg)", "titleFontSize": 15, "titleX": -33, "titleY": 71, "titleBaseline": "bottom"}},
             "x": {"field": "m", "type": "quantitative", "scale": {"type": "log", "domain": [0.003075, 0.3192], "nice": false},
                   "axis": {"values": [0.005,0.01,0.02,0.05,0.1,0.2], "labelExpr": "toString(datum.value)", "labelFontSize": 16, "ticks": false, "labelPadding": 6, "title": null}},
             "order": {"field": "o", "type": "quantitative"}}},
          {"transform": [{"filter": "datum.s == 'th'"}],
           "mark": {"type": "line", "style": "hatchA", "interpolate": "cardinal-closed", "stroke": "#707070", "strokeWidth": 0.8, "clip": true},
           "encoding": {"x": {"field": "m", "type": "quantitative", "axis": null}, "y": {"field": "d", "type": "quantitative", "axis": null}, "order": {"field": "o", "type": "quantitative"}}},
          {"transform": [{"filter": "datum.s == 'lh'"}],
           "mark": {"type": "line", "style": "hatchB", "interpolate": "cardinal-closed", "stroke": "#707070", "strokeWidth": 0.8, "clip": true},
           "encoding": {"x": {"field": "m", "type": "quantitative", "axis": null}, "y": {"field": "d", "type": "quantitative", "axis": null}, "order": {"field": "o", "type": "quantitative"}}},
          {"transform": [{"filter": "datum.s == 'lhh'"}],
           "mark": {"type": "line", "interpolate": "cardinal-closed", "fill": "#d9d9d9", "stroke": "#707070", "strokeWidth": 0.8, "clip": true},
           "encoding": {"x": {"field": "m", "type": "quantitative", "axis": null}, "y": {"field": "d", "type": "quantitative", "axis": null}, "order": {"field": "o", "type": "quantitative"}}},
          {"transform": [{"filter": "datum.s == 'wg'"}],
           "mark": {"type": "line", "interpolate": "cardinal-closed", "fill": "#707070", "fillOpacity": 0.75, "stroke": "#8c8c8c", "strokeWidth": 0, "clip": true},
           "encoding": {"x": {"field": "m", "type": "quantitative", "axis": null}, "y": {"field": "d", "type": "quantitative", "axis": null}, "order": {"field": "o", "type": "quantitative"}}},
          {"transform": [{"filter": "datum.s == 'db'"}],
           "mark": {"type": "line", "interpolate": "cardinal-closed", "fill": "#808080", "stroke": "#808080", "strokeWidth": 0.5, "clip": true},
           "encoding": {"x": {"field": "m", "type": "quantitative", "axis": null}, "y": {"field": "d", "type": "quantitative", "axis": null}, "order": {"field": "o", "type": "quantitative"}}},
          {"transform": [{"filter": "datum.s == 'dbh'"}],
           "mark": {"type": "line", "interpolate": "cardinal-closed", "fill": "#d9d9d9", "stroke": "#d9d9d9", "strokeWidth": 0.5, "clip": true},
           "encoding": {"x": {"field": "m", "type": "quantitative", "axis": null}, "y": {"field": "d", "type": "quantitative", "axis": null}, "order": {"field": "o", "type": "quantitative"}}}
        ]
      },
      {
        "width": 233, "height": 138,
        "view": {"stroke": "#aaaaaa"},
        "data": {"name": "p2"},
        "resolve": {"axis": {"x": "independent", "y": "independent"}},
        "layer": [
          {"transform": [{"filter": "datum.s == 'wb'"}],
           "mark": {"type": "line", "interpolate": "linear-closed", "fill": "#d9d9d9", "stroke": "#d9d9d9", "strokeWidth": 0, "clip": true},
           "encoding": {
             "y": {"field": "d", "type": "quantitative", "scale": {"domain": [0, 360], "nice": false, "zero": false},
                   "axis": {"values": [90,180,270], "labels": false, "tickSize": -4, "title": null}},
             "x": {"field": "m", "type": "quantitative", "scale": {"type": "log", "domain": [0.00342, 0.2756], "nice": false},
                   "axis": {"values": [0.005,0.01,0.02,0.05,0.1,0.2], "labelExpr": "toString(datum.value)", "labelFontSize": 16, "ticks": false, "labelPadding": 6, "title": "m₃ (eV)", "titleFontSize": 20, "titleX": 103, "titleY": 36, "titleBaseline": "top"}},
             "order": {"field": "o", "type": "quantitative"}}},
          {"transform": [{"filter": "datum.s == 'h'"}],
           "mark": {"type": "line", "style": "hatchC", "interpolate": "cardinal-closed", "stroke": "#707070", "strokeWidth": 0.8, "clip": true},
           "encoding": {"x": {"field": "m", "type": "quantitative", "axis": null}, "y": {"field": "d", "type": "quantitative", "axis": null}, "order": {"field": "o", "type": "quantitative"}}},
          {"transform": [{"filter": "datum.s == 'hh'"}],
           "mark": {"type": "line", "interpolate": "cardinal-closed", "fill": "#d9d9d9", "stroke": "#707070", "strokeWidth": 0.8, "clip": true},
           "encoding": {"x": {"field": "m", "type": "quantitative", "axis": null}, "y": {"field": "d", "type": "quantitative", "axis": null}, "order": {"field": "o", "type": "quantitative"}}},
          {"transform": [{"filter": "datum.s == 'dt'"}],
           "mark": {"type": "line", "interpolate": "cardinal-closed", "fill": "#767676", "fillOpacity": 0.9, "stroke": "#808080", "strokeWidth": 0, "clip": true},
           "encoding": {"x": {"field": "m", "type": "quantitative", "axis": null}, "y": {"field": "d", "type": "quantitative", "axis": null}, "order": {"field": "o", "type": "quantitative"}}},
          {"transform": [{"filter": "datum.s == 'db'"}],
           "mark": {"type": "line", "interpolate": "cardinal-closed", "fill": "#808080", "stroke": "#808080", "strokeWidth": 0.5, "clip": true},
           "encoding": {"x": {"field": "m", "type": "quantitative", "axis": null}, "y": {"field": "d", "type": "quantitative", "axis": null}, "order": {"field": "o", "type": "quantitative"}}}
        ]
      },
      {
        "width": 219, "height": 135,
        "view": {"stroke": "#aaaaaa"},
        "data": {"name": "p3"},
        "resolve": {"axis": {"x": "independent", "y": "independent"}},
        "layer": [
          {"transform": [{"filter": "datum.s == 'wb'"}],
           "mark": {"type": "line", "interpolate": "linear-closed", "fill": "#d9d9d9", "stroke": "#d9d9d9", "strokeWidth": 0, "clip": true},
           "encoding": {
             "y": {"field": "d", "type": "quantitative", "scale": {"domain": [0, 360], "nice": false, "zero": false},
                   "axis": {"values": [90,180,270], "labels": false, "tickSize": -4, "title": null}},
             "x": {"field": "m", "type": "quantitative", "scale": {"type": "log", "domain": [0.00321, 0.2634], "nice": false},
                   "axis": {"values": [0.005,0.01,0.02,0.05,0.1,0.2], "labelExpr": "toString(datum.value)", "labelFontSize": 15, "ticks": false, "labelPadding": 6, "title": null}},
             "order": {"field": "o", "type": "quantitative"}}},
          {"transform": [{"filter": "datum.s == 'h'"}],
           "mark": {"type": "line", "style": "hatchD", "interpolate": "cardinal-closed", "stroke": "#707070", "strokeWidth": 0.8, "clip": true},
           "encoding": {"x": {"field": "m", "type": "quantitative", "axis": null}, "y": {"field": "d", "type": "quantitative", "axis": null}, "order": {"field": "o", "type": "quantitative"}}},
          {"transform": [{"filter": "datum.s == 'dt'"}],
           "mark": {"type": "line", "interpolate": "cardinal-closed", "fill": "#767676", "fillOpacity": 0.9, "stroke": "#808080", "strokeWidth": 0, "clip": true},
           "encoding": {"x": {"field": "m", "type": "quantitative", "axis": null}, "y": {"field": "d", "type": "quantitative", "axis": null}, "order": {"field": "o", "type": "quantitative"}}},
          {"transform": [{"filter": "datum.s == 'db'"}],
           "mark": {"type": "line", "interpolate": "cardinal-closed", "fill": "#808080", "stroke": "#808080", "strokeWidth": 0.5, "clip": true},
           "encoding": {"x": {"field": "m", "type": "quantitative", "axis": null}, "y": {"field": "d", "type": "quantitative", "axis": null}, "order": {"field": "o", "type": "quantitative"}}}
        ]
      }
    ]
  }
]
}
